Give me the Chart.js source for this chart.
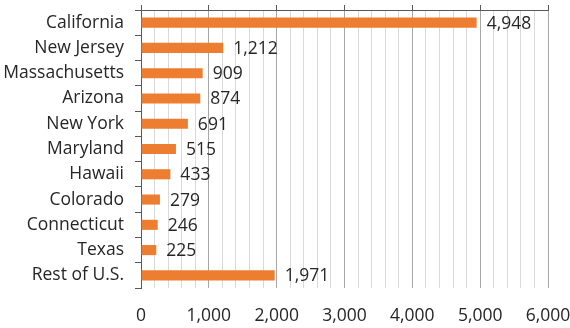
<!DOCTYPE html>
<html>
<head>
<meta charset="utf-8">
<script src="https://cdn.jsdelivr.net/npm/chart.js@4"></script>
<style>
  html, body { margin: 0; padding: 0; background: #fff; }
  #wrap { width: 570px; height: 328px; position: relative; }
</style>
</head>
<body>
<div id="wrap"><canvas id="chart"></canvas></div>
<script>
/* data */
const states = ["California", "New Jersey", "Massachusetts", "Arizona", "New York",
  "Maryland", "Hawaii", "Colorado", "Connecticut", "Texas", "Rest of U.S."];
const counts = [4948, 1212, 909, 874, 691, 515, 433, 279, 246, 225, 1971];
const axisMin = 0;
const axisMax = 6000;
const majorStep = 1000;
const minorStep = 200;

const FONT = { family: "Open Sans", size: 17.5 };
const TEXT = "#262626";
const AXIS = "#595959";

const fmt = v => v.toLocaleString("en-US");

// no automatic padding for label overhang, layout.padding decides
function noPad(s) {
  s.paddingLeft = s.paddingRight = s.paddingTop = s.paddingBottom = 0;
}

/* value labels to the right of each bar */
const barLabels = {
  id: "barLabels",
  afterDatasetsDraw(chart) {
    const ctx = chart.ctx;
    const meta = chart.getDatasetMeta(0);
    ctx.save();
    ctx.font = FONT.size + "px " + FONT.family;
    ctx.fillStyle = TEXT;
    ctx.textAlign = "left";
    ctx.textBaseline = "middle";
    meta.data.forEach((bar, i) => {
      ctx.fillText(fmt(counts[i]), bar.x + 10, bar.y + 1);
    });
    ctx.restore();
  }
};

new Chart(document.getElementById("chart"), {
  type: "bar",
  data: {
    labels: states,
    datasets: [{
      data: counts,
      backgroundColor: "#ED7D31",
      categoryPercentage: 1,
      barPercentage: 0.4
    }]
  },
  options: {
    indexAxis: "y",
    responsive: true,
    maintainAspectRatio: false,
    animation: false,
    layout: { padding: { top: 5, right: 22, bottom: 0, left: 0 } },
    plugins: { legend: { display: false }, tooltip: { enabled: false } },
    scales: {
      x: {
        position: "bottom",
        min: axisMin,
        max: axisMax,
        afterFit: s => { s.height = 40; noPad(s); },
        ticks: {
          stepSize: minorStep,
          autoSkip: false,
          maxRotation: 0,
          padding: 18,
          color: TEXT,
          font: FONT,
          callback: v => (v % majorStep === 0 ? fmt(v) : "")
        },
        grid: {
          drawTicks: false,
          color: c => (c.tick && c.tick.value % majorStep === 0 ? "#a6a6a6" : "#d9d9d9")
        },
        border: { display: false }
      },
      x2: {
        type: "linear",
        position: "top",
        min: axisMin,
        max: axisMax,
        afterFit: s => { s.height = 5; noPad(s); },
        ticks: { stepSize: majorStep, display: false },
        grid: { drawOnChartArea: false, tickLength: 5, color: AXIS },
        border: { display: true, color: AXIS }
      },
      y: {
        afterFit: s => { s.width = 141; noPad(s); },
        ticks: { color: TEXT, font: FONT, padding: 11 },
        grid: { drawOnChartArea: false, offset: true, tickLength: 6, color: AXIS },
        border: { display: true, color: AXIS }
      }
    }
  },
  plugins: [barLabels]
});
</script>
</body>
</html>
